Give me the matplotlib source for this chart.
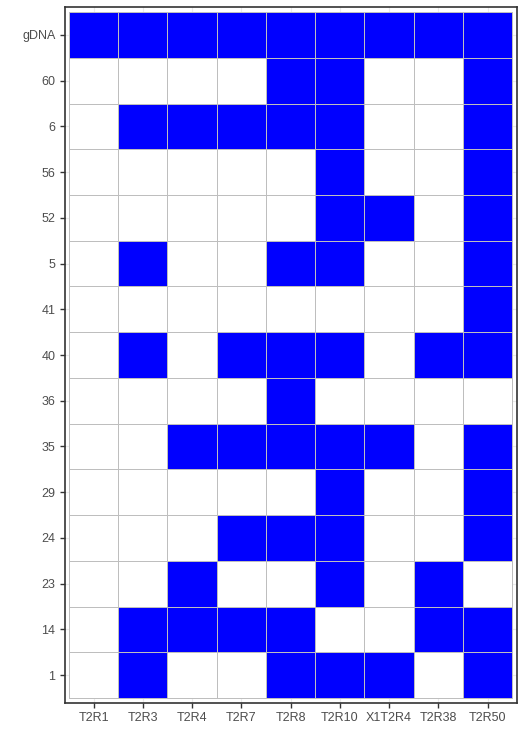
import matplotlib
matplotlib.use("Agg")
import matplotlib.pyplot as plt
import numpy as np
from matplotlib.colors import ListedColormap

plt.rcParams['font.family'] = ['Liberation Sans', 'DejaVu Sans']

genes = ['T2R1', 'T2R3', 'T2R4', 'T2R7', 'T2R8', 'T2R10', 'X1T2R4', 'T2R38', 'T2R50']
# rows listed bottom to top
samples = ['1', '14', '23', '24', '29', '35', '36', '40', '41', '5', '52', '56', '6', '60', 'gDNA']

# 1 = present (blue), 0 = absent (white); same order as genes
present = {
    '1':    [0, 1, 0, 0, 1, 1, 1, 0, 1],
    '14':   [0, 1, 1, 1, 1, 0, 0, 1, 1],
    '23':   [0, 0, 1, 0, 0, 1, 0, 1, 0],
    '24':   [0, 0, 0, 1, 1, 1, 0, 0, 1],
    '29':   [0, 0, 0, 0, 0, 1, 0, 0, 1],
    '35':   [0, 0, 1, 1, 1, 1, 1, 0, 1],
    '36':   [0, 0, 0, 0, 1, 0, 0, 0, 0],
    '40':   [0, 1, 0, 1, 1, 1, 0, 1, 1],
    '41':   [0, 0, 0, 0, 0, 0, 0, 0, 1],
    '5':    [0, 1, 0, 0, 1, 1, 0, 0, 1],
    '52':   [0, 0, 0, 0, 0, 1, 1, 0, 1],
    '56':   [0, 0, 0, 0, 0, 1, 0, 0, 1],
    '6':    [0, 1, 1, 1, 1, 1, 0, 0, 1],
    '60':   [0, 0, 0, 0, 1, 1, 0, 0, 1],
    'gDNA': [1, 1, 1, 1, 1, 1, 1, 1, 1],
}

grid = np.array([present[s] for s in samples])

fig = plt.figure(figsize=(5.25, 7.49), dpi=100)
ax = fig.add_axes([0.123, 0.0614, 0.862, 0.9286])

nx, ny = len(genes), len(samples)
ax.set_axisbelow(True)
ax.grid(True, color='#ebebeb', linewidth=0.8)

ax.pcolormesh(np.arange(nx + 1) - 0.5, np.arange(ny + 1) - 0.5, grid,
              cmap=ListedColormap(['white', '#0000ff']), vmin=0, vmax=1,
              edgecolors='#bebebe', linewidth=0.7)

ax.set_xlim(-0.59, nx - 0.5 + 0.1)
ax.set_ylim(-0.61, ny - 0.5 + 0.1)
ax.set_xticks(range(nx))
ax.set_xticklabels(genes)
ax.set_yticks(range(ny))
ax.set_yticklabels(samples)

for sp in ax.spines.values():
    sp.set_color('#333333')
    sp.set_linewidth(1.2)

ax.tick_params(axis='both', colors='#333333', length=3.5, width=1,
               labelsize=9, labelcolor='#4d4d4d', pad=3)

fig.savefig('out.png', dpi=100, facecolor='white')
